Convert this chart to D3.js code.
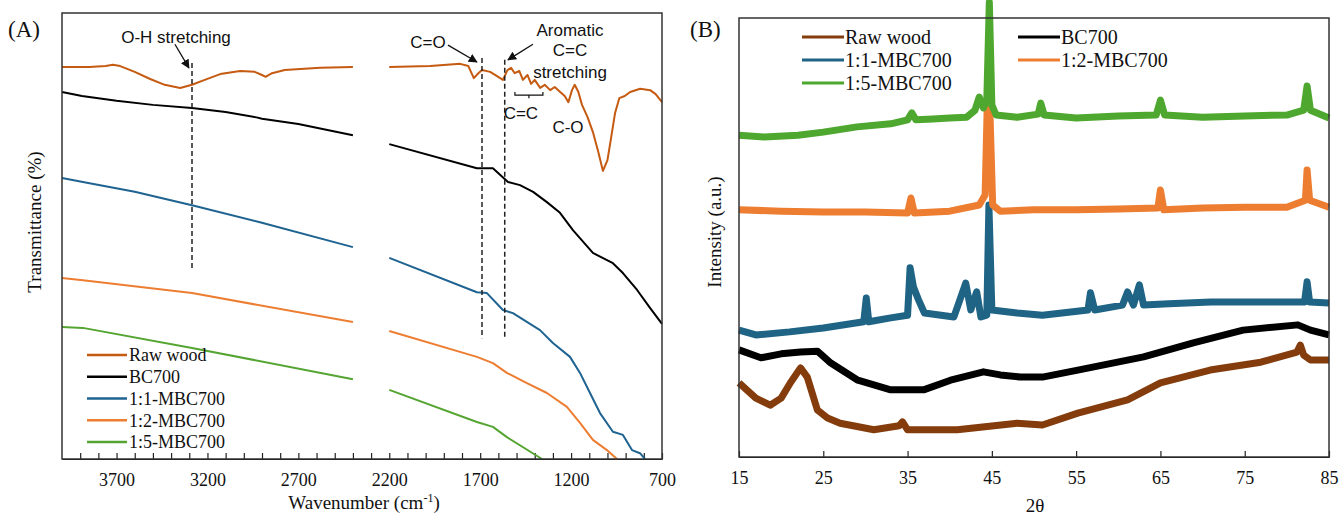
<!DOCTYPE html>
<html>
<head>
<meta charset="utf-8">
<script src="https://cdn.jsdelivr.net/npm/d3@7"></script>
<style>
  body { margin: 0; background: #fff; }
  text { fill: #111; }
</style>
</head>
<body>
<svg id="chart" width="1341" height="518"></svg>
<script>
// ---- FTIR (panel A): [wavenumber, transmittance], null = no data (axis break)
const ftirRawWood = [
  [4000,87.9],[3850,87.9],[3760,88.1],[3720,88.4],[3680,88.1],[3600,86.8],[3515,85.2],[3435,83.9],
  [3350,83.2],[3285,83.9],[3215,85.0],[3130,86.3],[3020,87.0],[2940,86.8],[2900,86.1],[2880,85.7],
  [2845,86.5],[2775,87.2],[2580,87.7],[2400,87.9],[2300,null],
  [2200,87.9],[1975,88.1],[1810,88.6],[1765,88.1],[1735,85.4],[1710,86.5],[1690,87.2],[1645,86.8],
  [1590,85.4],[1575,85.0],[1550,87.2],[1530,87.7],[1510,86.5],[1485,87.0],[1465,85.0],[1440,86.1],
  [1420,84.1],[1400,85.0],[1370,83.2],[1345,83.9],[1315,82.7],[1290,83.4],[1260,82.3],[1235,81.4],
  [1215,80.0],[1195,82.7],[1180,83.9],[1160,82.3],[1140,79.4],[1110,76.7],[1080,73.3],[1050,68.8],
  [1025,64.6],[1000,67.0],[980,72.0],[958,77.6],[935,80.9],[905,81.4],[875,82.3],[820,83.0],
  [765,82.7],[735,81.8],[700,80.0]
];
const ftirBC700 = [
  [4000,82.3],[3890,81.4],[3700,80.3],[3500,79.4],[3285,78.7],[3100,77.8],[2930,76.6],[2900,76.3],
  [2700,75.1],[2400,72.6],[2300,null],
  [2200,70.6],[1718,65.2],[1630,65.2],[1547,62.1],[1481,61.4],[1409,59.9],[1333,57.6],[1261,55.2],
  [1190,51.3],[1080,46.2],[970,43.9],[915,41.7],[837,37.9],[766,33.9],[700,30.3]
];
const ftir11 = [
  [4000,63.0],[3885,62.1],[3600,59.9],[3285,56.9],[2911,53.1],[2400,47.5],[2300,null],
  [2200,45.1],[1718,37.4],[1663,37.2],[1575,33.4],[1520,32.7],[1371,28.9],[1300,26.0],[1206,22.9],
  [1151,19.3],[1096,14.8],[1041,10.3],[970,6.1],[915,5.4],[865,2.0],[821,1.3],[793,0]
];
const ftir12 = [
  [4000,40.6],[3885,40.1],[3285,37.2],[2400,30.7],[2300,null],
  [2200,28.7],[1718,22.9],[1630,21.5],[1553,19.3],[1443,17.0],[1333,14.8],[1223,11.7],[1151,8.1],
  [1080,4.3],[1003,2.0],[948,0]
];
const ftir15 = [
  [4000,29.6],[3885,29.4],[3285,24.9],[2400,17.9],[2300,null],
  [2200,15.5],[1718,8.3],[1630,7.2],[1553,4.9],[1360,0]
];
const ftirNames = ["Raw wood", "BC700", "1:1-MBC700", "1:2-MBC700", "1:5-MBC700"];
const ftirTickLabels = [3700, 3200, 2700, 2200, 1700, 1200, 700];
const ftirBandLines = [3285, 1690, 1565];

// ---- XRD (panel B): [2theta, intensity]
const xrdRawWood = [
  [15,16.9],[17,13.4],[18.7,11.8],[20,13.4],[21.1,16.9],[22.3,20.3],[23.1,18.2],[24.3,10.7],
  [25.5,8.9],[27,7.7],[31,6.2],[34,7.1],[34.4,8.0],[35,6.2],[40.9,6.2],[48,7.7],[51,7.3],
  [55.2,10.0],[61.1,13.0],[65,16.9],[70.9,19.8],[76.9,21.6],[81.2,23.9],[81.6,25.5],[82,23.2],
  [82.8,22.1],[85,22.1]
];
const xrdBC700 = [
  [15,24.4],[17.6,22.6],[20,23.5],[22.3,23.9],[24.3,24.1],[25.9,21.4],[29.1,17.5],[33,15.3],
  [36.9,15.3],[40.1,17.5],[44,19.4],[46,18.7],[48.4,18.2],[51,18.2],[55.2,19.8],[63,22.8],
  [68.9,26.0],[74.8,28.9],[81.3,30.1],[82.8,28.9],[85,27.8]
];
const xrd11 = [
  [15,28.9],[17,27.8],[21,28.5],[25,29.4],[29.8,30.8],[30.1,36.2],[30.4,30.8],[33,31.7],[35,32.3],
  [35.3,43.1],[35.7,38.7],[36.3,35.8],[37,32.8],[40.5,31.9],[41.9,39.6],[42.5,33.5],[43.2,37.6],
  [43.7,31.9],[44.4,32.3],[44.65,57.4],[45.0,33.5],[48,32.8],[51,32.3],[56.4,33.5],[56.7,37.4],
  [57.2,33.5],[60.5,34.6],[61.1,37.6],[61.8,34.6],[62.5,39.2],[63,34.6],[66,34.9],[71,35.3],
  [76,35.3],[82.1,35.3],[82.4,39.9],[82.7,35.3],[85,35.1]
];
const xrd12 = [
  [15,56.3],[20,56.0],[25,55.8],[30,55.8],[35,55.6],[35.4,59.0],[35.8,55.6],[40,56.0],[43.5,57.4],
  [44.2,59.7],[44.5,84.1],[44.8,76.8],[45.1,57.4],[46,56.0],[50,56.3],[55,56.3],[60,56.5],
  [64.7,56.7],[65,60.8],[65.4,56.3],[70,56.7],[75,56.9],[80,56.9],[82.2,58.5],[82.4,65.4],
  [82.7,58.5],[85,56.9]
];
const xrd15 = [
  [15,73.3],[18,72.9],[22,73.3],[25,74.0],[29,75.2],[33,75.9],[35,76.8],[35.5,78.4],[36,76.8],
  [38,77.0],[40,77.2],[42,77.4],[43,79.0],[43.5,82.0],[44,79.5],[44.4,81.3],[44.7,103.6],
  [45.0,80.2],[45.5,77.9],[48,77.4],[50.5,78.1],[50.8,80.6],[51.2,77.9],[55,77.2],[60,77.7],
  [64.5,77.9],[65,81.3],[65.5,77.9],[70,77.4],[75,77.7],[80,77.9],[82,79.0],[82.4,84.5],
  [82.8,79.0],[85,77.2]
];
const xrdNames = ["Raw wood", "BC700", "1:1-MBC700", "1:2-MBC700", "1:5-MBC700"];
const xrdTicks = [15, 25, 35, 45, 55, 65, 75, 85];

const ftirColors = ["#c55a11", "#000000", "#1f6391", "#ed7d31", "#55a532"];
const xrdColors = ["#843c0c", "#000000", "#1f6385", "#ed7d31", "#4ea72e"];

const SERIF = "'Liberation Serif', 'Times New Roman', serif";
const SANS = "'Liberation Sans', Arial, sans-serif";

const svg = d3.select("#chart");

// ================= Panel A =================
const xA = d3.scaleLinear().domain([4000, 700]).range([62, 662]);
const yA = d3.scaleLinear().domain([0, 100]).range([459, 13]);

svg.append("defs").append("marker")
    .attr("id", "arrow")
    .attr("viewBox", "0 0 10 10")
    .attr("refX", 9).attr("refY", 5)
    .attr("markerWidth", 9).attr("markerHeight", 9)
    .attr("markerUnits", "userSpaceOnUse")
    .attr("orient", "auto")
  .append("path").attr("d", "M0,0L10,5L0,10Z").attr("fill", "#111");

const gA = svg.append("g");

const axisA = d3.axisBottom(xA)
    .tickValues(d3.range(3900, 699, -100))
    .tickFormat(d => ftirTickLabels.includes(d) ? d : "")
    .tickSizeInner(-6).tickSizeOuter(0).tickPadding(14);
gA.append("g").attr("transform", "translate(0,459)").call(axisA)
    .call(g => g.selectAll("text").attr("font-family", SERIF).attr("font-size", 18).attr("fill", "#111"))
    .call(g => g.selectAll("line").attr("stroke", "#222").attr("stroke-width", 1.2));

const lineA = d3.line()
    .defined(d => d[1] != null)
    .x(d => xA(d[0])).y(d => yA(d[1]));

const ftirData = [ftirRawWood, ftirBC700, ftir11, ftir12, ftir15];
gA.append("g").selectAll("path")
    .data(ftirData)
    .join("path")
      .attr("d", lineA)
      .attr("fill", "none")
      .attr("stroke", (d, i) => ftirColors[i])
      .attr("stroke-width", 2)
      .attr("stroke-linejoin", "round");

// band markers
const bandTop = [88.8, 89.9, 89.5];
const bandBottom = [42.4, 27.1, 27.1];
gA.append("g").selectAll("line")
    .data(ftirBandLines)
    .join("line")
      .attr("x1", d => xA(d)).attr("x2", d => xA(d))
      .attr("y1", (d, i) => yA(bandTop[i])).attr("y2", (d, i) => yA(bandBottom[i]))
      .attr("stroke", "#222").attr("stroke-width", 1.5).attr("stroke-dasharray", "5,3");

// annotations
const annot = gA.append("g").attr("font-family", SANS).attr("font-size", 17).attr("text-anchor", "middle");
annot.append("text").attr("x", xA(3373)).attr("y", yA(93.3)).text("O-H stretching");
annot.append("text").attr("x", xA(1987)).attr("y", yA(92.2)).text("C=O");
annot.append("text").attr("x", xA(1206)).attr("y", yA(94.8)).text("Aromatic");
annot.append("text").attr("x", xA(1206)).attr("y", yA(90.4)).text("C=C");
annot.append("text").attr("x", xA(1206)).attr("y", yA(85.4)).text("stretching");
annot.append("text").attr("x", xA(1476)).attr("y", yA(76.2)).text("C=C");
annot.append("text").attr("x", xA(1217)).attr("y", yA(73.1)).text("C-O");

const arrows = [
  [[3379, 93.0], [3302, 87.7]],
  [[1877, 92.8], [1718, 89.0]],
  [[1410, 93.0], [1547, 89.5]]
];
gA.append("g").selectAll("line")
    .data(arrows)
    .join("line")
      .attr("x1", d => xA(d[0][0])).attr("y1", d => yA(d[0][1]))
      .attr("x2", d => xA(d[1][0])).attr("y2", d => yA(d[1][1]))
      .attr("stroke", "#111").attr("stroke-width", 1.3)
      .attr("marker-end", "url(#arrow)");

// bracket under aromatic C=C
gA.append("path")
    .attr("d", `M${xA(1509)},${yA(82.3)}V${yA(81.6)}H${xA(1355)}V${yA(82.3)}M${xA(1432)},${yA(81.6)}V${yA(80.9)}`)
    .attr("fill", "none").attr("stroke", "#111").attr("stroke-width", 1.2);

gA.append("rect")
    .attr("x", 62).attr("y", 13).attr("width", 600).attr("height", 446)
    .attr("fill", "none").attr("stroke", "#333").attr("stroke-width", 1.5);

// legend A
const legA = gA.append("g").selectAll("g")
    .data(ftirNames)
    .join("g")
      .attr("transform", (d, i) => `translate(87,${355 + i * 21.75})`);
legA.append("line").attr("x1", 0).attr("x2", 40)
    .attr("stroke", (d, i) => ftirColors[i]).attr("stroke-width", 2.5);
legA.append("text").attr("x", 42).attr("dy", "0.35em")
    .attr("font-family", SERIF).attr("font-size", 18).text(d => d);

gA.append("text").attr("x", 364).attr("y", 509)
    .attr("font-family", SERIF).attr("font-size", 19).attr("text-anchor", "middle")
    .call(t => {
      t.append("tspan").text("Wavenumber (cm");
      t.append("tspan").attr("font-size", 12).attr("dy", -7).text("-1");
      t.append("tspan").attr("dy", 7).text(")");
    });
gA.append("text").attr("transform", "translate(41,222) rotate(-90)")
    .attr("font-family", SERIF).attr("font-size", 19).attr("text-anchor", "middle")
    .text("Transmittance (%)");
gA.append("text").attr("x", 8).attr("y", 37)
    .attr("font-family", SERIF).attr("font-size", 23).text("(A)");

// ================= Panel B =================
const xB = d3.scaleLinear().domain([15, 85]).range([739, 1329]);
const yB = d3.scaleLinear().domain([0, 100]).range([457, 18]);
const gB = svg.append("g");

const axisB = d3.axisBottom(xB)
    .tickValues(xrdTicks)
    .tickSizeInner(-6).tickSizeOuter(0).tickPadding(14);
gB.append("g").attr("transform", "translate(0,457)").call(axisB)
    .call(g => g.selectAll("text").attr("font-family", SERIF).attr("font-size", 18).attr("fill", "#111"))
    .call(g => g.selectAll("line").attr("stroke", "#222").attr("stroke-width", 1.2));

const lineB = d3.line().x(d => xB(d[0])).y(d => yB(d[1]));
const xrdData = [xrdRawWood, xrdBC700, xrd11, xrd12, xrd15];
gB.append("g").selectAll("path")
    .data(xrdData)
    .join("path")
      .attr("d", lineB)
      .attr("fill", "none")
      .attr("stroke", (d, i) => xrdColors[i])
      .attr("stroke-width", 7)
      .attr("stroke-linejoin", "round");

gB.append("rect")
    .attr("x", 739).attr("y", 18).attr("width", 590).attr("height", 439)
    .attr("fill", "none").attr("stroke", "#333").attr("stroke-width", 1.5);

// legend B (two columns)
const legPos = [[802, 37], [1018, 37], [802, 60], [1018, 60], [802, 83]];
const legB = gB.append("g").selectAll("g")
    .data(xrdNames)
    .join("g")
      .attr("transform", (d, i) => `translate(${legPos[i][0]},${legPos[i][1]})`);
legB.append("line").attr("x1", 0).attr("x2", 42)
    .attr("stroke", (d, i) => xrdColors[i]).attr("stroke-width", 3);
legB.append("text").attr("x", 43).attr("dy", "0.35em")
    .attr("font-family", SERIF).attr("font-size", 20).text(d => d);

gB.append("text").attr("x", 1035).attr("y", 512)
    .attr("font-family", SERIF).attr("font-size", 19).attr("text-anchor", "middle").text("2θ");
gB.append("text").attr("transform", "translate(721,232) rotate(-90)")
    .attr("font-family", SERIF).attr("font-size", 19).attr("text-anchor", "middle")
    .text("Intensity (a.u.)");
gB.append("text").attr("x", 690).attr("y", 37)
    .attr("font-family", SERIF).attr("font-size", 23).text("(B)");
</script>
</body>
</html>
